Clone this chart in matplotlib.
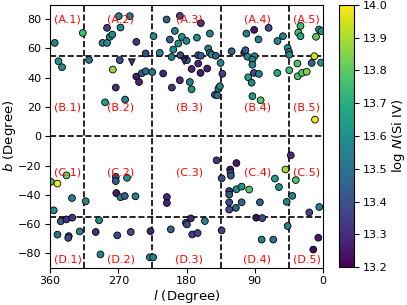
import matplotlib
matplotlib.use("Agg")
import matplotlib.pyplot as plt
import numpy as np

# Circle detections: Galactic longitude, latitude, log N(Si IV)
l_deg = [353.8, 316.8, 348.9, 344.2,
         308.5, 290.8, 284.8, 284.8, 281.2, 277.9, 269.3, 254.8, 267.1, 246.2, 268.0,
         277.2, 273.3, 287.4, 261.0, 246.2, 242.6, 238.9, 233.7, 225.1, 233.9,
         223.5, 215.2, 210.8, 206.3, 202.0, 199.3, 199.7, 197.4, 195.4, 190.8, 188.8,
         188.8, 188.1, 186.1, 180.2, 179.5, 175.6, 173.3, 173.3, 166.3, 164.6, 164.6,
         161.1, 161.1, 161.5, 152.7, 151.4, 149.2, 149.2, 146.9, 141.3, 135.1, 132.7,
         142.6, 139.5, 138.0, 136.0,
         120.5, 101.0, 90.8, 85.1, 71.7, 103.9, 102.3, 99.7, 90.4, 93.1, 93.1, 91.1,
         84.5, 98.6, 94.1, 93.1, 82.3, 60.1, 52.8, 60.3, 46.6, 44.9, 44.5, 44.5,
         29.7, 32.6, 29.7, 9.2, 5.3, 2.0, 11.5, 14.9, 2.6, 33.7, 33.3, 27.7, 21.5, 10.6,
         358.8, 350.2, 338.4, 331.0, 355.1, 312.9, 345.9, 338.4, 330.7, 350.2, 335.3,
         336.0, 320.8,
         295.3, 299.7, 293.5, 273.3, 273.3, 258.4, 272.6, 267.1, 261.4, 247.3, 271.3,
         253.5, 227.5, 228.4, 224.0,
         205.9, 205.9, 200.7, 180.9, 179.5, 174.3, 172.5, 165.4, 155.8, 140.3, 133.7,
         133.7,
         114.2, 122.4, 121.9, 121.5, 123.7, 123.7, 114.2, 107.3, 97.4, 123.7, 123.7,
         114.9, 107.3, 83.2, 88.1, 80.1, 80.9, 65.6, 63.4, 58.1, 49.5, 47.9, 46.6,
         42.5, 40.5, 35.9, 18.1, 4.9, 6.2, 12.8]
b_deg = [63.8, 70.6, 51.3, 47.2,
         52.2, 63.8, 63.8, 74.1, 67.9, 69.5, 82.1, 82.1, 74.3, 64.5, 52.0,
         45.6, 33.3, 23.2, 25.1, 40.8, 37.1, 43.1, 44.4, 43.8, 56.6,
         68.4, 57.0, 42.9, 79.8, 66.1, 33.3, 54.2, 59.3, 72.0, 63.4, 82.3,
         38.3, 55.4, 67.9, 65.2, 52.0, 37.1, 32.1, 46.0, 67.4, 49.7, 55.4,
         55.0, 77.3, 43.3, 46.3, 60.0, 70.2, 57.0, 55.9, 55.0, 50.1, 42.7,
         28.4, 28.0, 32.6, 34.2,
         58.1, 70.2, 72.7, 66.2, 74.1, 57.0, 58.8, 54.4, 54.7, 52.4, 48.9, 43.3,
         42.6, 40.3, 36.6, 27.4, 24.6, 65.1, 68.4, 43.3, 60.4, 57.6, 55.7, 45.1,
         75.4, 70.8, 68.4, 68.0, 73.0, 71.8, 54.7, 50.1, 50.3, 49.7, 41.0, 43.3, 44.1, 11.4,
         -31.1, -32.3, -26.7, -42.2, -50.6, -44.4, -58.1, -56.8, -55.6, -67.2, -68.2,
         -69.4, -65.0,
         -57.4, -65.4, -80.7, -27.7, -30.6, -28.4, -38.8, -41.6, -40.8, -41.0, -67.7,
         -65.4, -64.8, -82.7, -82.7,
         -41.5, -45.6, -63.6, -59.1, -60.2, -56.1, -67.1, -66.1, -57.9, -16.4, -28.7,
         -64.3,
         -18.3, -22.7, -25.1, -26.9, -37.4, -39.8, -36.2, -34.4, -36.4, -45.1, -50.1,
         -48.9, -45.1, -45.1, -55.6, -55.9, -70.6, -70.6, -28.9, -34.7, -22.7, -44.8, -61.3,
         -13.0, -40.7, -29.9, -52.0, -48.3, -69.3, -77.4]
logN = [13.55, 13.75, 13.62, 13.58,
        13.52, 13.55, 13.58, 13.35, 13.55, 13.58, 13.55, 13.55, 13.55, 13.32, 13.38,
        13.88, 13.30, 13.65, 13.55, 13.25, 13.28, 13.45, 13.50, 13.52, 13.38,
        13.58, 13.55, 13.28, 13.45, 13.45, 13.32, 13.55, 13.62, 13.55, 13.62, 13.38,
        13.30, 13.38, 13.62, 13.58, 13.42, 13.55, 13.60, 13.28, 13.58, 13.28, 13.42,
        13.42, 13.32, 13.25, 13.25, 13.55, 13.55, 13.55, 13.58, 13.45, 13.58, 13.35,
        13.45, 13.50, 13.55, 13.55,
        13.45, 13.55, 13.25, 13.55, 13.38, 13.28, 13.42, 13.55, 13.55, 13.55, 13.55, 13.38,
        13.55, 13.65, 13.55, 13.62, 13.78, 13.55, 13.55, 13.68, 13.62, 13.55, 13.58, 13.75,
        13.75, 13.78, 13.68, 13.80, 13.60, 13.62, 13.95, 13.45, 13.62, 13.78, 13.78, 13.80, 13.85, 13.98,
        13.75, 13.98, 13.82, 13.55, 13.58, 13.55, 13.42, 13.30, 13.33, 13.50, 13.38,
        13.38, 13.55,
        13.58, 13.30, 13.55, 13.38, 13.42, 13.62, 13.25, 13.55, 13.45, 13.55, 13.38,
        13.38, 13.28, 13.55, 13.55,
        13.28, 13.28, 13.45, 13.38, 13.38, 13.28, 13.35, 13.38, 13.55, 13.32, 13.38,
        13.35,
        13.25, 13.25, 13.42, 13.42, 13.35, 13.42, 13.58, 13.60, 13.78, 13.38, 13.38,
        13.45, 13.45, 13.45, 13.22, 13.38, 13.55, 13.50, 13.65, 13.60, 13.88, 13.55, 13.55,
        13.30, 13.55, 13.78, 13.38, 13.55, 13.25, 13.22]

# Triangle (limit) points
l_tri = [252.1, 183.1]
b_tri = [50.6, 51.3]
logN_tri = [13.30, 13.28]

# Region labels
region_rows = ["A", "B", "C", "D"]
region_row_b = [80, 20, -25, -84]
region_col_l = [336.6, 266.7, 176.2, 86.5, 21.6]

l_div = [315, 225, 135, 45]
b_div = [55, 0, -55]

vmin, vmax = 13.2, 14.0

fig = plt.figure(figsize=(4.07, 3.05), dpi=100)
ax = fig.add_axes([0.1229, 0.1213, 0.6707, 0.8637])
cax = fig.add_axes([0.8337, 0.1236, 0.0361, 0.861])

for lv in l_div:
    ax.axvline(lv, color="black", ls="--", lw=1.2, zorder=1)
for bv in b_div:
    ax.axhline(bv, color="black", ls="--", lw=1.2, zorder=1)

sc = ax.scatter(l_deg, b_deg, c=logN, cmap="viridis", vmin=vmin, vmax=vmax,
                s=24, edgecolors="black", linewidths=0.6, zorder=2)
ax.scatter(l_tri, b_tri, c=logN_tri, cmap="viridis", vmin=vmin, vmax=vmax,
           s=24, marker="v", edgecolors="black", linewidths=0.6, zorder=2)

for ri, rname in enumerate(region_rows):
    for ci, lc in enumerate(region_col_l):
        ax.text(lc, region_row_b[ri], f"({rname}.{ci+1})", color="red",
                fontsize=8, ha="center", va="center", zorder=3)

ax.set_xlim(360, 0)
ax.set_ylim(-90, 90)
ax.set_xticks([360, 270, 180, 90, 0])
ax.set_yticks([-80, -60, -40, -20, 0, 20, 40, 60, 80])
ax.tick_params(labelsize=8, pad=2.5)
ax.set_xlabel("$l$ (Degree)", fontsize=9.5, labelpad=1)
ax.set_ylabel("$b$ (Degree)", fontsize=9.5, labelpad=0)

cb = fig.colorbar(sc, cax=cax)
cb.set_ticks([13.2, 13.3, 13.4, 13.5, 13.6, 13.7, 13.8, 13.9, 14.0])
cb.ax.tick_params(labelsize=8, pad=2.5)
cb.set_label("log $N$(Si IV)", fontsize=9.5, labelpad=2)

fig.savefig("out.png", dpi=100)
